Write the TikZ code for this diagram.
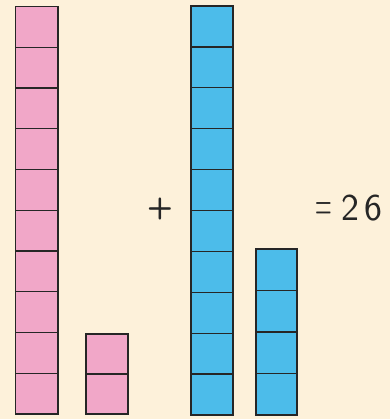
\documentclass[tikz,border=0pt]{standalone}
\usepackage{fontspec}
\usepackage{graphicx}
\begin{document}
\begin{tikzpicture}[x=1pt,y=-1pt,
  pinkcell/.style={fill=pinkfill,draw=black!85,line width=1.4pt},
  bluecell/.style={fill=bluefill,draw=black!85,line width=1.4pt},
  handtext/.style={font=\sffamily\fontsize{38}{38}\selectfont,text=black!85,inner sep=0pt}]
\definecolor{bg}{HTML}{FDF1DA}
\definecolor{pinkfill}{HTML}{F1A7C8}
\definecolor{bluefill}{HTML}{4CBCEA}
\fill[bg] (0,0) rectangle (390,419);
\useasboundingbox (0,0) rectangle (390,419);
% tall pink column
\foreach \i in {0,...,9}
  \draw[pinkcell] (15.5,{6.5+40.75*\i}) rectangle (58,{6.5+40.75*(\i+1)});
% small pink column
\foreach \i in {0,1}
  \draw[pinkcell] (86,{334+40*\i}) rectangle (128,{334+40*(\i+1)});
% tall blue column
\foreach \i in {0,...,9}
  \draw[bluecell] (191,{6+40.9*\i}) rectangle (233,{6+40.9*(\i+1)});
% small blue column
\foreach \i in {0,...,3}
  \draw[bluecell] (256,{249+41.5*\i}) rectangle (297,{249+41.5*(\i+1)});
\node[handtext,font=\sffamily\bfseries\fontsize{30}{30}\selectfont] (plus) at (160,209) {+};
\node[handtext] (sum) at (349,208) {\raisebox{-1pt}{\scalebox{0.6}[1.4]{=}}\hspace{9pt}2\hspace{5pt}6};
\end{tikzpicture}
\end{document}
